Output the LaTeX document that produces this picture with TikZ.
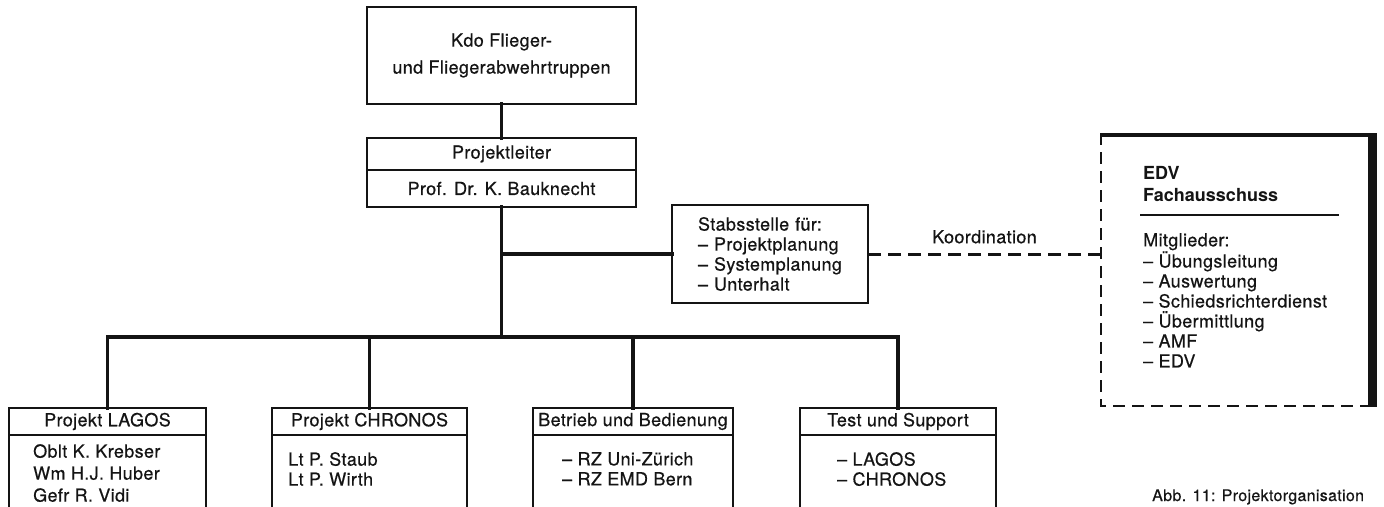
\documentclass[tikz,border=0pt]{standalone}
\usepackage{fontspec}
\setmainfont{TeX Gyre Heros}[UprightFeatures={FakeBold=0.5, LetterSpace=2}]
\usetikzlibrary{positioning, calc}
\definecolor{CInk}{HTML}{141414}

\begin{document}
\begin{tikzpicture}[x=1pt, y=-1pt,
    every node/.style={font=\fontsize{18}{20}\selectfont, text=CInk},
    box/.style={draw=CInk, line width=1.8pt, inner sep=0pt, outer sep=0pt, align=center},
    link/.style={draw=CInk, line width=3.4pt, line cap=rect},
    koord/.style={draw=CInk, line width=3pt, dash pattern=on 13pt off 7pt},
    listtext/.style={inner sep=0pt, align=left, anchor=north west}]

    \useasboundingbox[fill=white] (0,0) rectangle (1384,506);
    \clip (0,0) rectangle (1384,506);

    % --- 1. COMMAND AND PROJECT LEAD ---
    \node[box, minimum width=269, minimum height=97, font=\fontsize{18}{27}\selectfont]
        (kdo) at (501.5,55.5) {Kdo Flieger-\\und Fliegerabwehrtruppen};
    \node[box, minimum width=269, minimum height=32] (leiter) at (501.5,154) {Projektleiter};
    \node[box, minimum width=269, minimum height=37, below=0pt of leiter] (leitername) {Prof. Dr. K. Bauknecht};
    \draw[link] (kdo.south) -- (leiter.north);

    % --- 2. STAFF POSITION ---
    \node[box, text width=144, inner xsep=26, minimum height=98, align=left]
        (stab) at (770,254) {Stabsstelle für:\\– Projektplanung\\– Systemplanung\\– Unterhalt};

    % --- 3. TRUNK AND SUB-PROJECTS ---
    \coordinate (bus) at (501.5,337);
    \draw[link] (leitername.south) -- (bus);
    \draw[link] (stab.west) -- (stab.west -| leitername.south);

    \foreach \name/\cx/\w/\title in {lagos/107.5/197/Projekt LAGOS, chronos/369.5/195/Projekt CHRONOS,
                                    betrieb/633/200/Betrieb und Bedienung, test/898/196/Test und Support} {
        \node[box, minimum width=\w, minimum height=27] (\name) at (\cx,421.5) {\title};
        \node[box, minimum width=\w, minimum height=110, below=0pt of \name] (\name body) {};
        \draw[link] (\name.north) -- (\name.north |- bus);
    }
    \draw[link] (lagos.north |- bus) -- (test.north |- bus);

    % Members of each sub-project
    \node[listtext, font=\fontsize{18}{22}\selectfont] (lagoslist) at ($(lagosbody.north west)+(24,9)$)
        {Oblt K. Krebser\\Wm H.J. Huber\\Gefr R. Vidi};
    \node[listtext] (chronoslist) at ($(chronosbody.north west)+(16,17)$) {Lt P. Staub\\Lt P. Wirth};
    \node[listtext] (betrieblist) at ($(betriebbody.north west)+(29,17)$) {– RZ Uni-Zürich\\– RZ EMD Bern};
    \node[listtext] (testlist) at ($(testbody.north west)+(37,17)$) {– LAGOS\\– CHRONOS};

    % --- 4. EDV COMMITTEE ---
    \node[inner sep=0pt, outer sep=0pt, minimum width=272, minimum height=273] (edv) at (1237,269.5) {};
    \draw[CInk, line width=2.2pt, dash pattern=on 12pt off 7pt]
        (edv.north west) -- (edv.south west) -- (edv.south east);
    \draw[CInk, line width=4pt] ($(edv.north west)+(0,2)$) -- ($(edv.north east)+(0,2)$);
    \draw[CInk, line width=9pt] ($(edv.north east)+(-1,0)$) -- ($(edv.south east)+(-1,1)$);

    \node[listtext, font=\bfseries\fontsize{18}{22}\selectfont] (edvtitle) at (1143,166) {EDV\\Fachausschuss};
    \draw[CInk, line width=2pt] (1140,215) -- (1339,215);
    \node[listtext] (edvlist) at (1143,233)
        {Mitglieder:\\– Übungsleitung\\– Auswertung\\– Schiedsrichterdienst\\– Übermittlung\\– AMF\\– EDV};

    % Coordination link
    \draw[koord] (stab.east) -- (stab.east -| edv.west)
        node[midway, above=9pt, inner sep=0pt] (koordlabel) {Koordination};

    % --- 5. CAPTION ---
    \node[inner sep=0pt, anchor=base west, font=\fontsize{16}{18}\selectfont] (caption) at (1152,501) {Abb. 11: Projektorganisation};

\end{tikzpicture}
\end{document}
